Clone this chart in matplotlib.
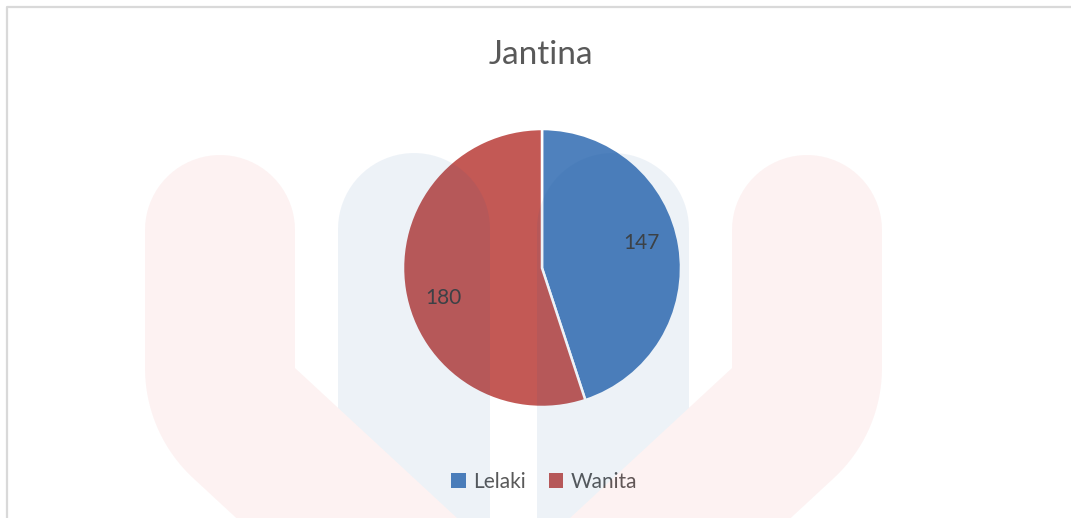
import matplotlib
matplotlib.use("Agg")
import matplotlib.pyplot as plt
from matplotlib.patches import Polygon, Patch
import numpy as np

plt.rcParams['font.family'] = ['Lato', 'DejaVu Sans']

# -- data
categories = ['Lelaki', 'Wanita']
values = [147, 180]
colors = ['#4F81BD', '#C35955']
title = 'Jantina'

W, H = 1071, 518
fig = plt.figure(figsize=(W / 100, H / 100), dpi=100)
fig.patch.set_facecolor('white')

# -- pie (posizione in pixel: centro (542, 268), raggio 139)
cx, cy, r = 542, 268, 139
ax = fig.add_axes([(cx - r) / W, (H - cy - r) / H, 2 * r / W, 2 * r / H])
total = sum(values)
wedges, _, autotexts = ax.pie(
    values, colors=colors, startangle=90, counterclock=False,
    autopct=lambda p: f"{round(p * total / 100):d}", pctdistance=0.74,
    wedgeprops=dict(edgecolor='white', linewidth=1.8),
    textprops=dict(color='#404040', fontsize=15))
ax.set_xlim(-1, 1)
ax.set_ylim(-1, 1)
ax.axis('off')

# Excel "best fit": le etichette non stanno esattamente a meta' spicchio
label_angles = [14, 197]
for t, a in zip(autotexts, label_angles):
    t.set_position((0.74 * np.cos(np.radians(a)), 0.74 * np.sin(np.radians(a))))

fig.text(541 / W, 1 - 64 / H, title, ha='center', va='baseline',
         fontsize=24, color='#595959')

handles = [Patch(facecolor=c, edgecolor='none') for c in colors]
leg = fig.legend(handles, categories, loc='center', ncol=2, frameon=False,
                 bbox_to_anchor=(544 / W, 1 - 482 / H), fontsize=15,
                 handlelength=0.7, handleheight=0.7, handletextpad=0.35,
                 columnspacing=1.1, labelcolor='#595959')
leg.set_zorder(5)

# -- overlay: filigrana (effetto moltiplicativo con alpha) + bordo
ov = fig.add_axes([0, 0, 1, 1], zorder=10)
ov.set_xlim(0, W)
ov.set_ylim(H, 0)
ov.axis('off')
ov.patch.set_visible(False)


def arc(xc, yc, rad, a0, a1, n=40):
    t = np.radians(np.linspace(a0, a1, n))
    return np.column_stack([xc + rad * np.cos(t), yc + rad * np.sin(t)])


def pink_shape():
    # colonna con testa arrotondata + gomito diagonale
    d = np.array([1.08, 1.0])
    d = d / np.hypot(*d)
    nrm = np.array([-d[1], d[0]])
    outer = np.array([295, 368]) + 150 * nrm
    ang = np.degrees(np.arctan2(nrm[1], nrm[0]))
    pts = [arc(220, 230, 75, 180, 360)]
    pts.append([[295, 368], [295 + 1.08 * (560 - 368), 560]])
    pts.append([[outer[0] + 1.08 * (560 - outer[1]), 560]])
    pts.append(arc(295, 368, 150, ang, 180))
    return np.vstack(pts)


def blue_shape():
    # colonna tagliata dalla diagonale rosa
    y_left = 368 + (338 - 295) / 1.08
    y_right = 368 + (490 - 295) / 1.08
    pts = [arc(414, 229, 76, 180, 360), [[490, y_right]], [[338, y_left]]]
    return np.vstack(pts)


pink_c = (226 / 255, 41 / 255, 41 / 255)
blue_c = (12 / 255, 84 / 255, 155 / 255)
for shape, col, a in [(pink_shape(), pink_c, 0.06), (blue_shape(), blue_c, 0.07)]:
    mirror = shape.copy()
    mirror[:, 0] = 1027 - mirror[:, 0]
    for s in (shape, mirror):
        ov.add_patch(Polygon(s, closed=True, facecolor=col, edgecolor='none',
                             alpha=a))

ov.plot([7, 7, W], [H, 7, 7], color='#d9d9d9', linewidth=1.6,
        solid_capstyle='butt')

fig.savefig('out.png', dpi=100)
